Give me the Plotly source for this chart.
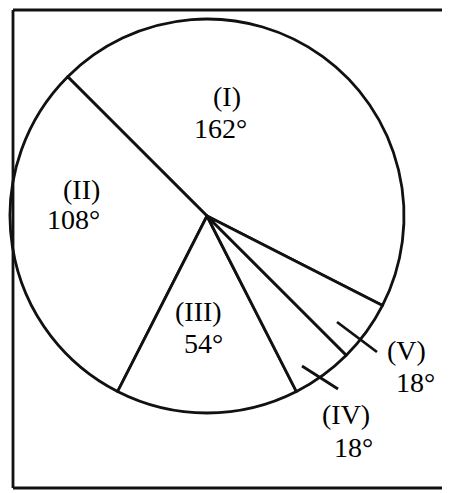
import plotly.graph_objects as go

# Data
categories = ["(I)", "(II)", "(III)", "(IV)", "(V)"]
degrees = [162, 108, 54, 18, 18]

W, H = 450, 493
OFF = 8  # page body margin of the browser

def px(x):
    return (x - OFF) / W

def py(y):
    return 1 - (y - OFF) / H

# pie geometry (pixels in the reference)
cx, cy, r = 207, 216, 197

fig = go.Figure()
fig.add_trace(go.Pie(
    labels=categories,
    values=degrees,
    sort=False,
    direction="counterclockwise",
    rotation=-45,
    textinfo="none",
    hoverinfo="label+value",
    marker=dict(colors=["white"] * len(categories), line=dict(color="#111111", width=2.8)),
    domain=dict(x=[px(cx - r), px(cx + r)], y=[py(cy + r), py(cy - r)]),
    showlegend=False,
))

# label positions (pixel centres of each text line)
name_pos = [(227, 96), (81, 189), (198, 311), (346, 414), (406, 350)]
value_pos = [(220, 129), (73, 219), (203, 343), (353, 447), (415, 382)]
font = dict(family="Liberation Serif, DejaVu Serif, serif", size=28, color="#000000")
for cat, val, (x1, y1), (x2, y2) in zip(categories, degrees, name_pos, value_pos):
    fig.add_annotation(x=px(x1), y=py(y1), xref="paper", yref="paper",
                       text=cat, showarrow=False, font=font,
                       xanchor="center", yanchor="middle")
    fig.add_annotation(x=px(x2), y=py(y2), xref="paper", yref="paper",
                       text=f"{val}°", showarrow=False, font=font,
                       xanchor="center", yanchor="middle")

shapes = [
    # frame (right side runs off the picture)
    dict(type="line", x0=px(13), y0=py(10), x1=px(470), y1=py(10)),
    dict(type="line", x0=px(13), y0=py(10), x1=px(13), y1=py(488)),
    dict(type="line", x0=px(13), y0=py(488), x1=px(470), y1=py(488)),
    # leader lines
    dict(type="line", x0=px(337), y0=py(322), x1=px(377), y1=py(352)),
    dict(type="line", x0=px(302), y0=py(366), x1=px(338), y1=py(389)),
]
for s in shapes:
    s.update(xref="paper", yref="paper", line=dict(color="#111111", width=2.8))
fig.update_layout(
    shapes=shapes,
    width=W, height=H,
    margin=dict(l=0, r=0, t=0, b=0),
    paper_bgcolor="white", plot_bgcolor="white",
)

fig.write_html("out.html")
